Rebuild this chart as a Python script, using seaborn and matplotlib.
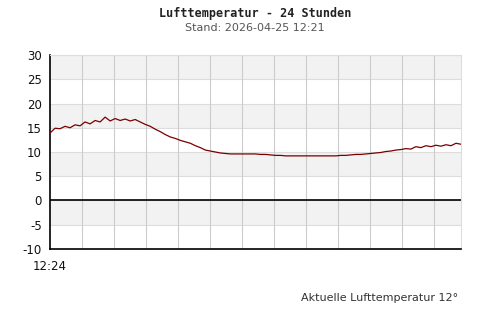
import numpy as np
import pandas as pd
import matplotlib
matplotlib.use("Agg")
import matplotlib.pyplot as plt
import seaborn as sns

# --- data ---
temps = [13.9, 14.9, 14.8, 15.3, 15.0, 15.6, 15.4, 16.2, 15.8, 16.5,
         16.2, 17.2, 16.4, 16.9, 16.5, 16.8, 16.4, 16.7, 16.2, 15.7,
         15.3, 14.7, 14.2, 13.6, 13.1, 12.8, 12.4, 12.1, 11.8, 11.3,
         10.9, 10.4, 10.2, 10.0, 9.8, 9.7, 9.6, 9.6, 9.6, 9.6,
         9.6, 9.6, 9.5, 9.5, 9.4, 9.3, 9.3, 9.2, 9.2, 9.2,
         9.2, 9.2, 9.2, 9.2, 9.2, 9.2, 9.2, 9.2, 9.3, 9.3,
         9.4, 9.5, 9.5, 9.6, 9.7, 9.8, 9.9, 10.1, 10.2, 10.4,
         10.5, 10.7, 10.6, 11.1, 10.9, 11.3, 11.1, 11.4, 11.2, 11.5,
         11.3, 11.8, 11.6]
hours = list(np.linspace(0, 24, len(temps)))
y_ticks = [-10, -5, 0, 5, 10, 15, 20, 25, 30]
x_label = "12:24"
title = "Lufttemperatur - 24 Stunden"
subtitle = "Stand: 2026-04-25 12:21"
footer = "Aktuelle Lufttemperatur 12°"

df = pd.DataFrame({"h": hours, "t": temps})

sns.set_style("white")
fig = plt.figure(figsize=(5, 3.2), dpi=100)
ax = fig.add_axes([0.1, 0.222, 0.822, 0.606])

# alternating bands
for lo, hi in [(25, 30), (15, 20), (5, 10), (-5, 0)]:
    ax.axhspan(lo, hi, color="#f2f2f2", zorder=0, lw=0)
for y in y_ticks:
    ax.axhline(y, color="#dddddd", lw=0.8, zorder=1)
step = 24 * 32 / 411
for k in range(1, 13):
    ax.axvline(k * step, color="#cccccc", lw=0.8, zorder=1)
ax.axhline(0, color="black", lw=1.2, zorder=2)

sns.lineplot(data=df, x="h", y="t", ax=ax, color="#7a0000", lw=0.9, zorder=3)

ax.set_xlim(0, 24)
ax.set_ylim(-10, 30)
ax.set_yticks(y_ticks)
ax.set_yticklabels([str(v) for v in y_ticks], fontsize=8.5, color="#111111")
ax.set_xticks([0])
ax.set_xticklabels([x_label], fontsize=8.5, color="#111111")
ax.tick_params(axis="y", length=0, pad=6)
ax.tick_params(axis="x", length=0, pad=8)
ax.set_xlabel("")
ax.set_ylabel("")
for s in ["top", "right"]:
    ax.spines[s].set_color("#dddddd")
    ax.spines[s].set_linewidth(0.8)
for s in ["left", "bottom"]:
    ax.spines[s].set_color("black")
    ax.spines[s].set_linewidth(1.2)

fig.text(0.51, 0.958, title, ha="center", va="center", fontsize=8.5,
         fontweight="bold", family="DejaVu Sans Mono", color="#222222")
fig.text(0.51, 0.912, subtitle, ha="center", va="center", fontsize=8,
         color="#555555")
fig.text(0.916, 0.068, footer, ha="right", va="center", fontsize=8,
         color="#333333")

fig.savefig("out.png", dpi=100)
